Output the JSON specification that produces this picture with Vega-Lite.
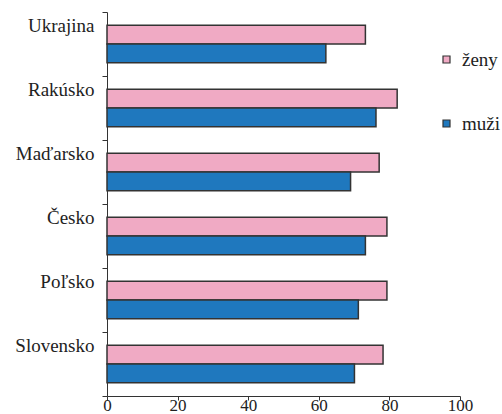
{
  "$schema": "https://vega.github.io/schema/vega-lite/v6.json",
  "autosize": {"type": "none"},
  "padding": {"left": 107, "top": 12, "right": 42, "bottom": 18},
  "width": 353,
  "height": 384,
  "background": "white",
  "data": {
    "values": [
      {"krajina": "Ukrajina", "pohlavie": "ženy", "hodnota": 73.2},
      {"krajina": "Ukrajina", "pohlavie": "muži", "hodnota": 62.0},
      {"krajina": "Rakúsko", "pohlavie": "ženy", "hodnota": 82.2},
      {"krajina": "Rakúsko", "pohlavie": "muži", "hodnota": 76.2},
      {"krajina": "Maďarsko", "pohlavie": "ženy", "hodnota": 77.1},
      {"krajina": "Maďarsko", "pohlavie": "muži", "hodnota": 69.0},
      {"krajina": "Česko", "pohlavie": "ženy", "hodnota": 79.3},
      {"krajina": "Česko", "pohlavie": "muži", "hodnota": 73.2},
      {"krajina": "Poľsko", "pohlavie": "ženy", "hodnota": 79.3},
      {"krajina": "Poľsko", "pohlavie": "muži", "hodnota": 71.2},
      {"krajina": "Slovensko", "pohlavie": "ženy", "hodnota": 78.2},
      {"krajina": "Slovensko", "pohlavie": "muži", "hodnota": 70.1}
    ]
  },
  "mark": {"type": "bar", "stroke": "#333333", "strokeWidth": 1.5},
  "encoding": {
    "y": {
      "field": "krajina",
      "type": "nominal",
      "sort": ["Ukrajina", "Rakúsko", "Maďarsko", "Česko", "Poľsko", "Slovensko"],
      "scale": {"paddingInner": 0, "paddingOuter": 0},
      "axis": {
        "title": null,
        "tickBand": "extent",
        "tickSize": 5,
        "tickColor": "#333333",
        "domainColor": "#333333",
        "labelFont": "Liberation Serif",
        "labelFontSize": 19,
        "labelColor": "#222222",
        "labelPadding": 8,
        "labelBaseline": "alphabetic",
        "labelOffset": -13,
        "grid": false
      }
    },
    "yOffset": {
      "field": "pohlavie",
      "type": "nominal",
      "sort": ["ženy", "muži"],
      "scale": {"paddingInner": 0, "paddingOuter": 0.71}
    },
    "x": {
      "field": "hodnota",
      "type": "quantitative",
      "scale": {"domain": [0, 100]},
      "axis": {
        "title": null,
        "values": [0, 20, 40, 60, 80, 100],
        "tickSize": 4,
        "tickColor": "#333333",
        "domainColor": "#333333",
        "labelFont": "Liberation Serif",
        "labelFontSize": 17,
        "labelColor": "#222222",
        "labelPadding": -3,
        "labelFlush": false,
        "grid": false
      }
    },
    "color": {
      "field": "pohlavie",
      "type": "nominal",
      "sort": ["ženy", "muži"],
      "scale": {"domain": ["ženy", "muži"], "range": ["#F0AAC4", "#1F78BE"]},
      "legend": {
        "title": null,
        "orient": "none",
        "legendX": 330,
        "legendY": 38,
        "padding": 0,
        "symbolType": "square",
        "symbolSize": 49,
        "symbolStrokeColor": "#333333",
        "symbolStrokeWidth": 1.2,
        "labelFont": "Liberation Serif",
        "labelFontSize": 19,
        "labelColor": "#222222",
        "labelOffset": 6,
        "rowPadding": 44
      }
    }
  },
  "config": {"view": {"stroke": null}}
}
